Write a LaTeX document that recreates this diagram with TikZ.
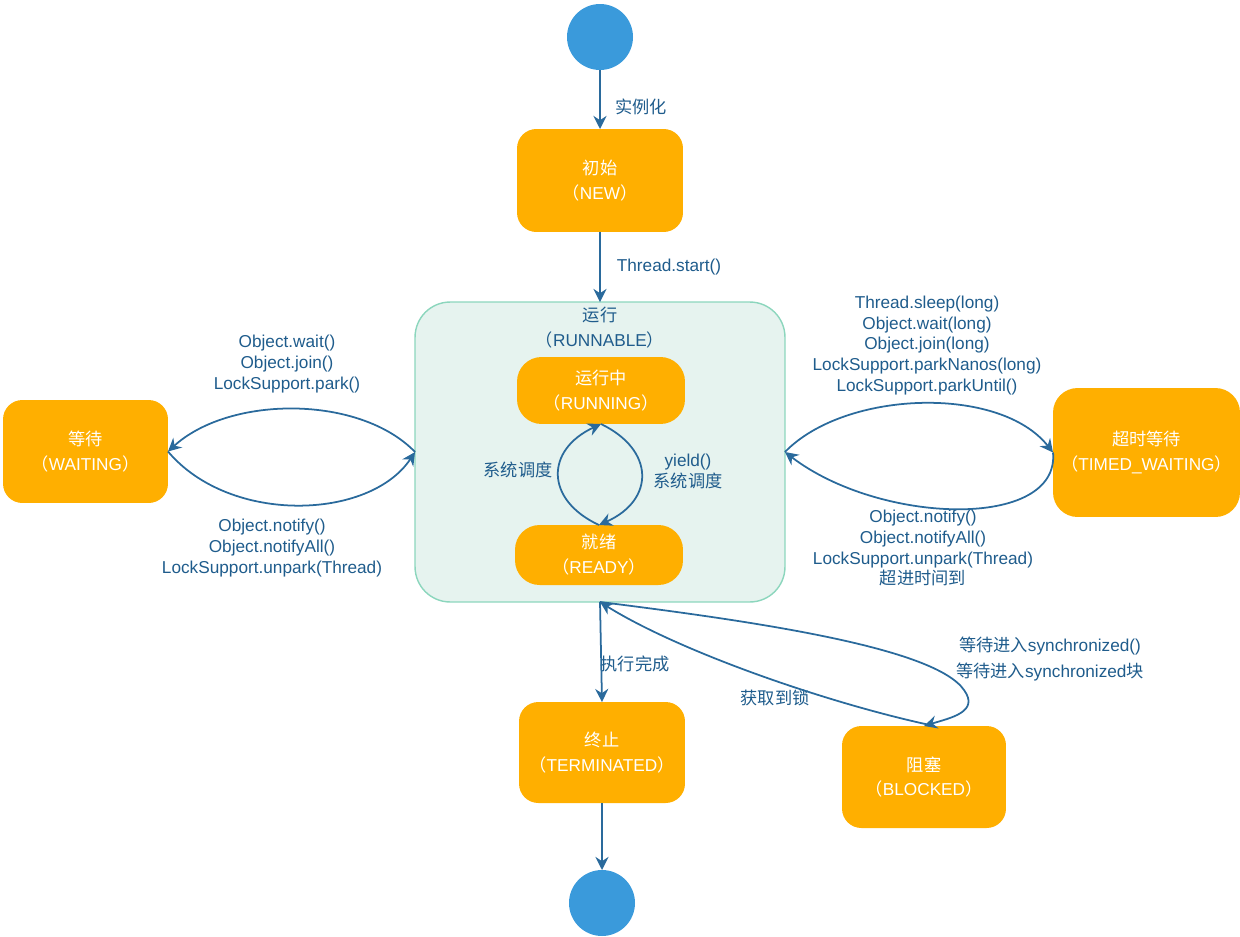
\documentclass[tikz,border=0pt]{standalone}
\usepackage{fontspec}
\setmainfont{Liberation Sans}
\newfontfamily\cjk{Noto Sans CJK SC}
\usetikzlibrary{arrows.meta}
\definecolor{linec}{HTML}{2A6A9C}
\definecolor{textc}{HTML}{1F5C8C}
\definecolor{boxc}{HTML}{FFAF00}
\definecolor{dotc}{HTML}{3A9ADB}
\definecolor{runfill}{HTML}{E6F3EF}
\definecolor{runline}{HTML}{8CD6BD}
\newcommand\zlp{{\cjk （}}
\newcommand\zrp{{\cjk ）}}
\begin{document}
\begin{tikzpicture}[x=0.02cm,y=-0.02cm,
  statebox/.style={fill=boxc, rounded corners=11pt, text=white, align=center,
    inner sep=0pt, outer sep=0pt, font=\fontsize{9.8}{14.2}\selectfont},
  lbl/.style={text=textc, align=center, inner sep=0pt, font=\fontsize{9.8}{11.9}\selectfont},
  conn/.style={draw=linec, line width=1pt, -{Stealth[length=7.5pt,width=7.5pt,inset=2.5pt]}},
  dot/.style={circle, fill=dotc, minimum size=1.32cm, inner sep=0pt, outer sep=0pt}]
\useasboundingbox (0,0) rectangle (1240,936);

% RUNNABLE container
\node[draw=runline, fill=runfill, line width=0.8pt, rounded corners=20pt,
      minimum width=7.40cm, minimum height=6.00cm, inner sep=0pt, outer sep=0pt] (run) at (600,452) {};
\node[lbl, font=\fontsize{9.8}{14.2}\selectfont] (runlbl) at (600,328) {{\cjk 运行}\\\zlp RUNNABLE\zrp};

% states
\node[dot] (startdot) at (600,37) {};
\node[dot] (enddot) at (602,903) {};
\node[statebox, minimum width=3.32cm, minimum height=2.06cm] (new) at (600,180.5) {{\cjk 初始}\\\zlp NEW\zrp};
\node[statebox, rounded corners=14pt, minimum width=3.36cm, minimum height=1.34cm] (running) at (601,390.5) {{\cjk 运行中}\\\zlp RUNNING\zrp};
\node[statebox, rounded corners=14pt, minimum width=3.36cm, minimum height=1.20cm] (ready) at (599,555) {{\cjk 就绪}\\\zlp READY\zrp};
\node[statebox, minimum width=3.30cm, minimum height=2.06cm] (wait) at (85.5,451.5) {{\cjk 等待}\\\zlp WAITING\zrp};
\node[statebox, rounded corners=14pt, minimum width=3.74cm, minimum height=2.58cm] (timed) at (1146.5,452.5) {{\cjk 超时等待}\\\zlp TIMED\_WAITING\zrp};
\node[statebox, minimum width=3.32cm, minimum height=2.02cm] (term) at (602,752.5) {{\cjk 终止}\\\zlp TERMINATED\zrp};
\node[statebox, minimum width=3.28cm, minimum height=2.04cm] (blocked) at (924,777) {{\cjk 阻塞}\\\zlp BLOCKED\zrp};

% labels
\node[lbl] (l1) at (641,107) {\cjk 实例化};
\node[lbl] (l2) at (669,267) {Thread.start()};
\node[lbl] (l3) at (287,364) {Object.wait()\\Object.join()\\LockSupport.park()};
\node[lbl] (l4) at (272,548) {Object.notify()\\Object.notifyAll()\\LockSupport.unpark(Thread)};
\node[lbl] (l5) at (927,345.5) {Thread.sleep(long)\\Object.wait(long)\\Object.join(long)\\LockSupport.parkNanos(long)\\LockSupport.parkUntil()};
\node[lbl] (l6) at (923,548) {Object.notify()\\Object.notifyAll()\\LockSupport.unpark(Thread)\\{\cjk 超进时间到}};
\node[lbl] (l7) at (518,470) {\cjk 系统调度};
\node[lbl] (l8) at (688,471.5) {yield()\\{\cjk 系统调度}};
\node[lbl] (l9) at (635,664) {\cjk 执行完成};
\node[lbl] (l10) at (775,698) {\cjk 获取到锁};
\node[lbl, font=\fontsize{9.8}{14.6}\selectfont] (l11) at (1050,659) {{\cjk 等待进入}synchronized()\\{\cjk 等待进入}synchronized{\cjk 块}};

% connectors
\draw[conn] (startdot.south) -- (new.north);
\draw[conn] (new.south) -- (run.north);
\draw[conn] (run.south) -- (term.north);
\draw[conn] (term.south) -- (enddot.north);

\draw[conn] (ready.north) .. controls (545,500) and (545,450) .. (running.south);
\draw[conn] (running.south) .. controls (655,450) and (655,500) .. (ready.north);

\draw[conn] (run.west) .. controls (360,395) and (230,395) .. (wait.east);
\draw[conn] (wait.east) .. controls (230,525) and (370,520) .. (run.west);

\draw[conn] (run.east) .. controls (845,390) and (1000,385) .. (timed.west);
\draw[conn] (timed.west) .. controls (1060,530) and (880,525) .. (run.east);

\draw[conn] ([xshift=6pt]blocked.north) .. controls (830,704) and (680,652) .. (run.south);
\draw[conn] (run.south) .. controls (760,622) and (935,648) .. (964,690)
  .. controls (980,712) and (950,718) .. (blocked.north);
\end{tikzpicture}
\end{document}
